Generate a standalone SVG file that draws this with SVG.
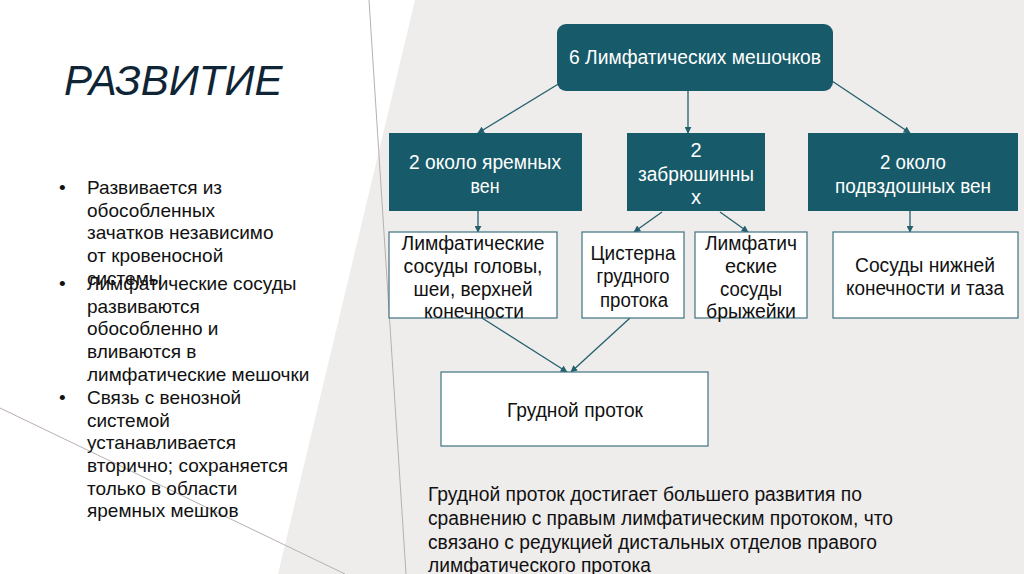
<svg xmlns="http://www.w3.org/2000/svg" width="1024" height="574" viewBox="0 0 1024 574">
<defs>
<marker id="ah" viewBox="0 0 10 10" refX="9" refY="5" markerWidth="7" markerHeight="7" markerUnits="userSpaceOnUse" orient="auto">
<path d="M0,0 L10,5 L0,10 z" fill="#235f6d"/>
</marker>
<style>
.dark{fill:#175a69;}
.wbox{fill:#ffffff;stroke:#3f7280;stroke-width:1.2;}
.wt{font-family:"Liberation Sans",Arial,sans-serif;font-size:20px;fill:#ffffff;text-anchor:middle;}
.bt{font-family:"Liberation Sans",Arial,sans-serif;font-size:20px;fill:#111111;text-anchor:middle;}
.lt{font-family:"Liberation Sans",Arial,sans-serif;font-size:19px;fill:#111111;}
.pt{font-family:"Liberation Sans",Arial,sans-serif;font-size:20px;fill:#111111;}
.conn{stroke:#235f6d;stroke-width:1.3;fill:none;marker-end:url(#ah);}
</style>
</defs>
<g id="background">
<rect x="0" y="0" width="1024" height="574" fill="#efecec"/>
<polygon points="0,0 415,0 278,574 0,574" fill="#ffffff"/>
<line x1="369" y1="0" x2="406" y2="574" stroke="#b9afaf" stroke-width="1"/>
<line x1="0" y1="408" x2="345" y2="574" stroke="#b9afaf" stroke-width="1"/>
</g>
<g id="title">
<text x="64" y="95" font-family="'Liberation Sans',Arial,sans-serif" font-size="42" font-style="italic" fill="#0f2535">РАЗВИТИЕ</text>
</g>
<g id="bullets">
<text class="lt" x="59" y="194">•</text>
<text class="lt" x="87" y="194">Развивается из</text>
<text class="lt" x="87" y="217">обособленных</text>
<text class="lt" x="87" y="239">зачатков независимо</text>
<text class="lt" x="87" y="262">от кровеносной</text>
<text class="lt" x="87" y="285">системы</text>
<text class="lt" x="59" y="290">•</text>
<text class="lt" x="87" y="290">Лимфатические сосуды</text>
<text class="lt" x="87" y="313">развиваются</text>
<text class="lt" x="87" y="335">обособленно и</text>
<text class="lt" x="87" y="358">вливаются в</text>
<text class="lt" x="87" y="381">лимфатические мешочки</text>
<text class="lt" x="59" y="404">•</text>
<text class="lt" x="87" y="404">Связь с венозной</text>
<text class="lt" x="87" y="427">системой</text>
<text class="lt" x="87" y="449">устанавливается</text>
<text class="lt" x="87" y="472">вторично; сохраняется</text>
<text class="lt" x="87" y="495">только в области</text>
<text class="lt" x="87" y="517">яремных мешков</text>
</g>
<g id="connectors">
<line class="conn" x1="560" y1="83" x2="478" y2="133"/>
<line class="conn" x1="688" y1="91" x2="688" y2="133"/>
<line class="conn" x1="832" y1="81" x2="910" y2="133"/>
<line class="conn" x1="478" y1="211" x2="478" y2="232"/>
<line class="conn" x1="662" y1="212" x2="634" y2="232"/>
<line class="conn" x1="720" y1="212" x2="748" y2="232"/>
<line class="conn" x1="910" y1="211" x2="910" y2="232"/>
<line class="conn" x1="482" y1="318" x2="567" y2="372"/>
<line class="conn" x1="630" y1="318" x2="571" y2="372"/>
</g>
<g id="node-top">
<rect class="dark" x="557" y="24" width="276" height="67" rx="9" ry="9"/>
<text class="wt" x="695" y="64" textLength="252" lengthAdjust="spacingAndGlyphs">6 Лимфатических мешочков</text>
</g>
<g id="node-jugular">
<rect class="dark" x="389" y="133" width="193" height="78"/>
<text class="wt" x="485" y="169" textLength="152" lengthAdjust="spacingAndGlyphs">2 около яремных</text>
<text class="wt" x="485" y="193" textLength="29" lengthAdjust="spacingAndGlyphs">вен</text>
</g>
<g id="node-retro">
<rect class="dark" x="627" y="133" width="138" height="78"/>
<text class="wt" x="696" y="157">2</text>
<text class="wt" x="696" y="181" textLength="116" lengthAdjust="spacingAndGlyphs">забрюшинны</text>
<text class="wt" x="696" y="204">х</text>
</g>
<g id="node-iliac">
<rect class="dark" x="808" y="133" width="210" height="78"/>
<text class="wt" x="913" y="169" textLength="66" lengthAdjust="spacingAndGlyphs">2 около</text>
<text class="wt" x="913" y="193" textLength="156" lengthAdjust="spacingAndGlyphs">подвздошных вен</text>
</g>
<g id="node-head">
<rect class="wbox" x="389" y="232" width="168" height="86"/>
<text class="bt" x="473" y="250" textLength="143" lengthAdjust="spacingAndGlyphs">Лимфатические</text>
<text class="bt" x="473" y="273" textLength="139" lengthAdjust="spacingAndGlyphs">сосуды головы,</text>
<text class="bt" x="473" y="296" textLength="119" lengthAdjust="spacingAndGlyphs">шеи, верхней</text>
<text class="bt" x="474" y="318" textLength="100" lengthAdjust="spacingAndGlyphs">конечности</text>
</g>
<g id="node-cisterna">
<rect class="wbox" x="582" y="232" width="102" height="86"/>
<text class="bt" x="633" y="260" textLength="85" lengthAdjust="spacingAndGlyphs">Цистерна</text>
<text class="bt" x="633" y="283" textLength="73" lengthAdjust="spacingAndGlyphs">грудного</text>
<text class="bt" x="634" y="307" textLength="68" lengthAdjust="spacingAndGlyphs">протока</text>
</g>
<g id="node-mesentery">
<rect class="wbox" x="695" y="232" width="112" height="86"/>
<text class="bt" x="751" y="250" textLength="92" lengthAdjust="spacingAndGlyphs">Лимфатич</text>
<text class="bt" x="751" y="273" textLength="52" lengthAdjust="spacingAndGlyphs">еские</text>
<text class="bt" x="751" y="296" textLength="62" lengthAdjust="spacingAndGlyphs">сосуды</text>
<text class="bt" x="751" y="318" textLength="90" lengthAdjust="spacingAndGlyphs">брыжейки</text>
</g>
<g id="node-lower">
<rect class="wbox" x="833" y="232" width="185" height="86"/>
<text class="bt" x="925" y="272" textLength="140" lengthAdjust="spacingAndGlyphs">Сосуды нижней</text>
<text class="bt" x="925" y="295" textLength="158" lengthAdjust="spacingAndGlyphs">конечности и таза</text>
</g>
<g id="node-thoracic">
<rect class="wbox" x="441" y="372" width="267" height="74"/>
<text class="bt" x="575" y="417" textLength="136" lengthAdjust="spacingAndGlyphs">Грудной проток</text>
</g>
<g id="note">
<text class="pt" x="428" y="501" textLength="434" lengthAdjust="spacingAndGlyphs">Грудной проток достигает большего развития по</text>
<text class="pt" x="428" y="525" textLength="465" lengthAdjust="spacingAndGlyphs">сравнению с правым лимфатическим протоком, что</text>
<text class="pt" x="428" y="549" textLength="449" lengthAdjust="spacingAndGlyphs">связано с редукцией дистальных отделов правого</text>
<text class="pt" x="428" y="572" textLength="223" lengthAdjust="spacingAndGlyphs">лимфатического протока</text>
</g>
</svg>
